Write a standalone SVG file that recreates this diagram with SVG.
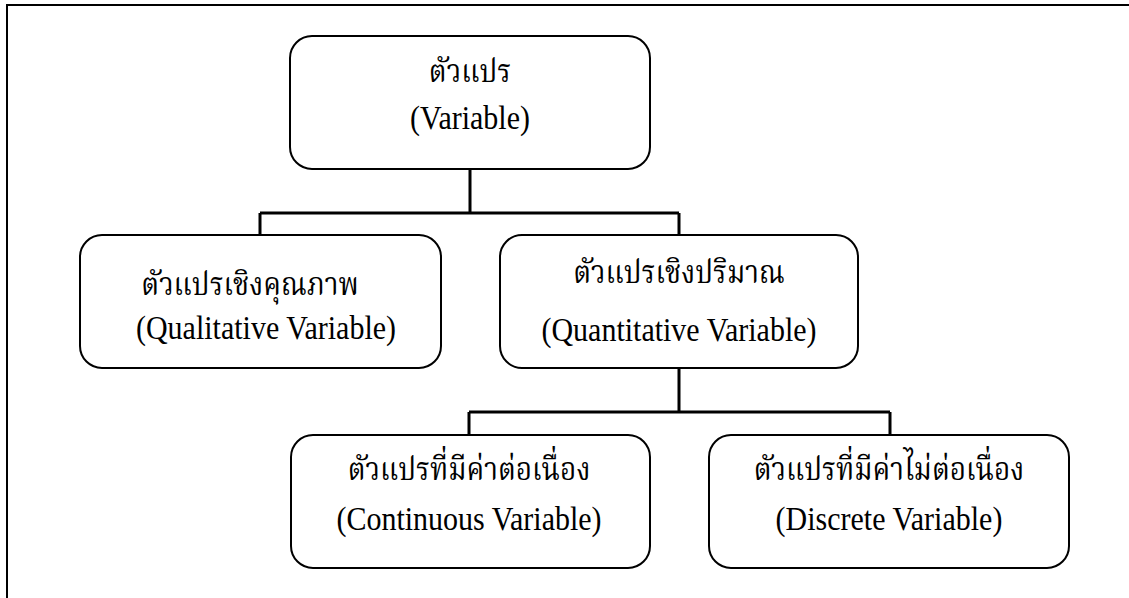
<svg xmlns="http://www.w3.org/2000/svg" width="1129" height="598" viewBox="0 0 1129 598">
<style>
.frame{fill:none;stroke:#000;stroke-width:2}
.box{fill:#fff;stroke:#000;stroke-width:2}
.conn{fill:none;stroke:#000;stroke-width:3}
.th{font-family:"Liberation Serif","Noto Serif Thai","Noto Sans Thai","DejaVu Serif","Noto Sans",serif;font-size:28px;fill:#000;text-anchor:middle}
.en{font-family:"Liberation Serif","Times New Roman",serif;font-size:30px;fill:#000;text-anchor:middle}
</style>
<rect width="1129" height="598" fill="#fff"/>
<rect class="frame" x="7" y="5" width="1140" height="610"/>
<g id="connectors">
<path class="conn" d="M470,169 V213 M260,213 H679 M260,213 V235 M679,213 V235"/>
<path class="conn" d="M679,368 V412 M469,412 H890 M469,412 V435 M890,412 V435"/>
</g>
<g id="n-variable">
<rect class="box" x="290" y="36" width="360" height="133" rx="22"/>
<text class="th" transform="translate(470,82) scale(1,1.15)">ตัวแปร</text>
<text class="en" transform="translate(470,129) scale(1,1.12)">(Variable)</text>
</g>
<g id="n-qualitative">
<rect class="box" x="80" y="235" width="361" height="133" rx="22"/>
<text class="th" transform="translate(250,295) scale(1,1.15)">ตัวแปรเชิงคุณภาพ</text>
<text class="en" transform="translate(266,339) scale(1,1.12)">(Qualitative Variable)</text>
</g>
<g id="n-quantitative">
<rect class="box" x="500" y="235" width="358" height="133" rx="22"/>
<text class="th" transform="translate(679,283) scale(1,1.15)">ตัวแปรเชิงปริมาณ</text>
<text class="en" transform="translate(679,341) scale(1,1.12)">(Quantitative Variable)</text>
</g>
<g id="n-continuous">
<rect class="box" x="291" y="435" width="359" height="133" rx="22"/>
<text class="th" transform="translate(469,480) scale(1,1.15)">ตัวแปรที่มีค่าต่อเนื่อง</text>
<text class="en" transform="translate(469,530) scale(1,1.12)">(Continuous Variable)</text>
</g>
<g id="n-discrete">
<rect class="box" x="709" y="435" width="360" height="133" rx="22"/>
<text class="th" transform="translate(889,480) scale(1,1.15)">ตัวแปรที่มีค่าไม่ต่อเนื่อง</text>
<text class="en" transform="translate(889,530) scale(1,1.12)">(Discrete Variable)</text>
</g>
</svg>
